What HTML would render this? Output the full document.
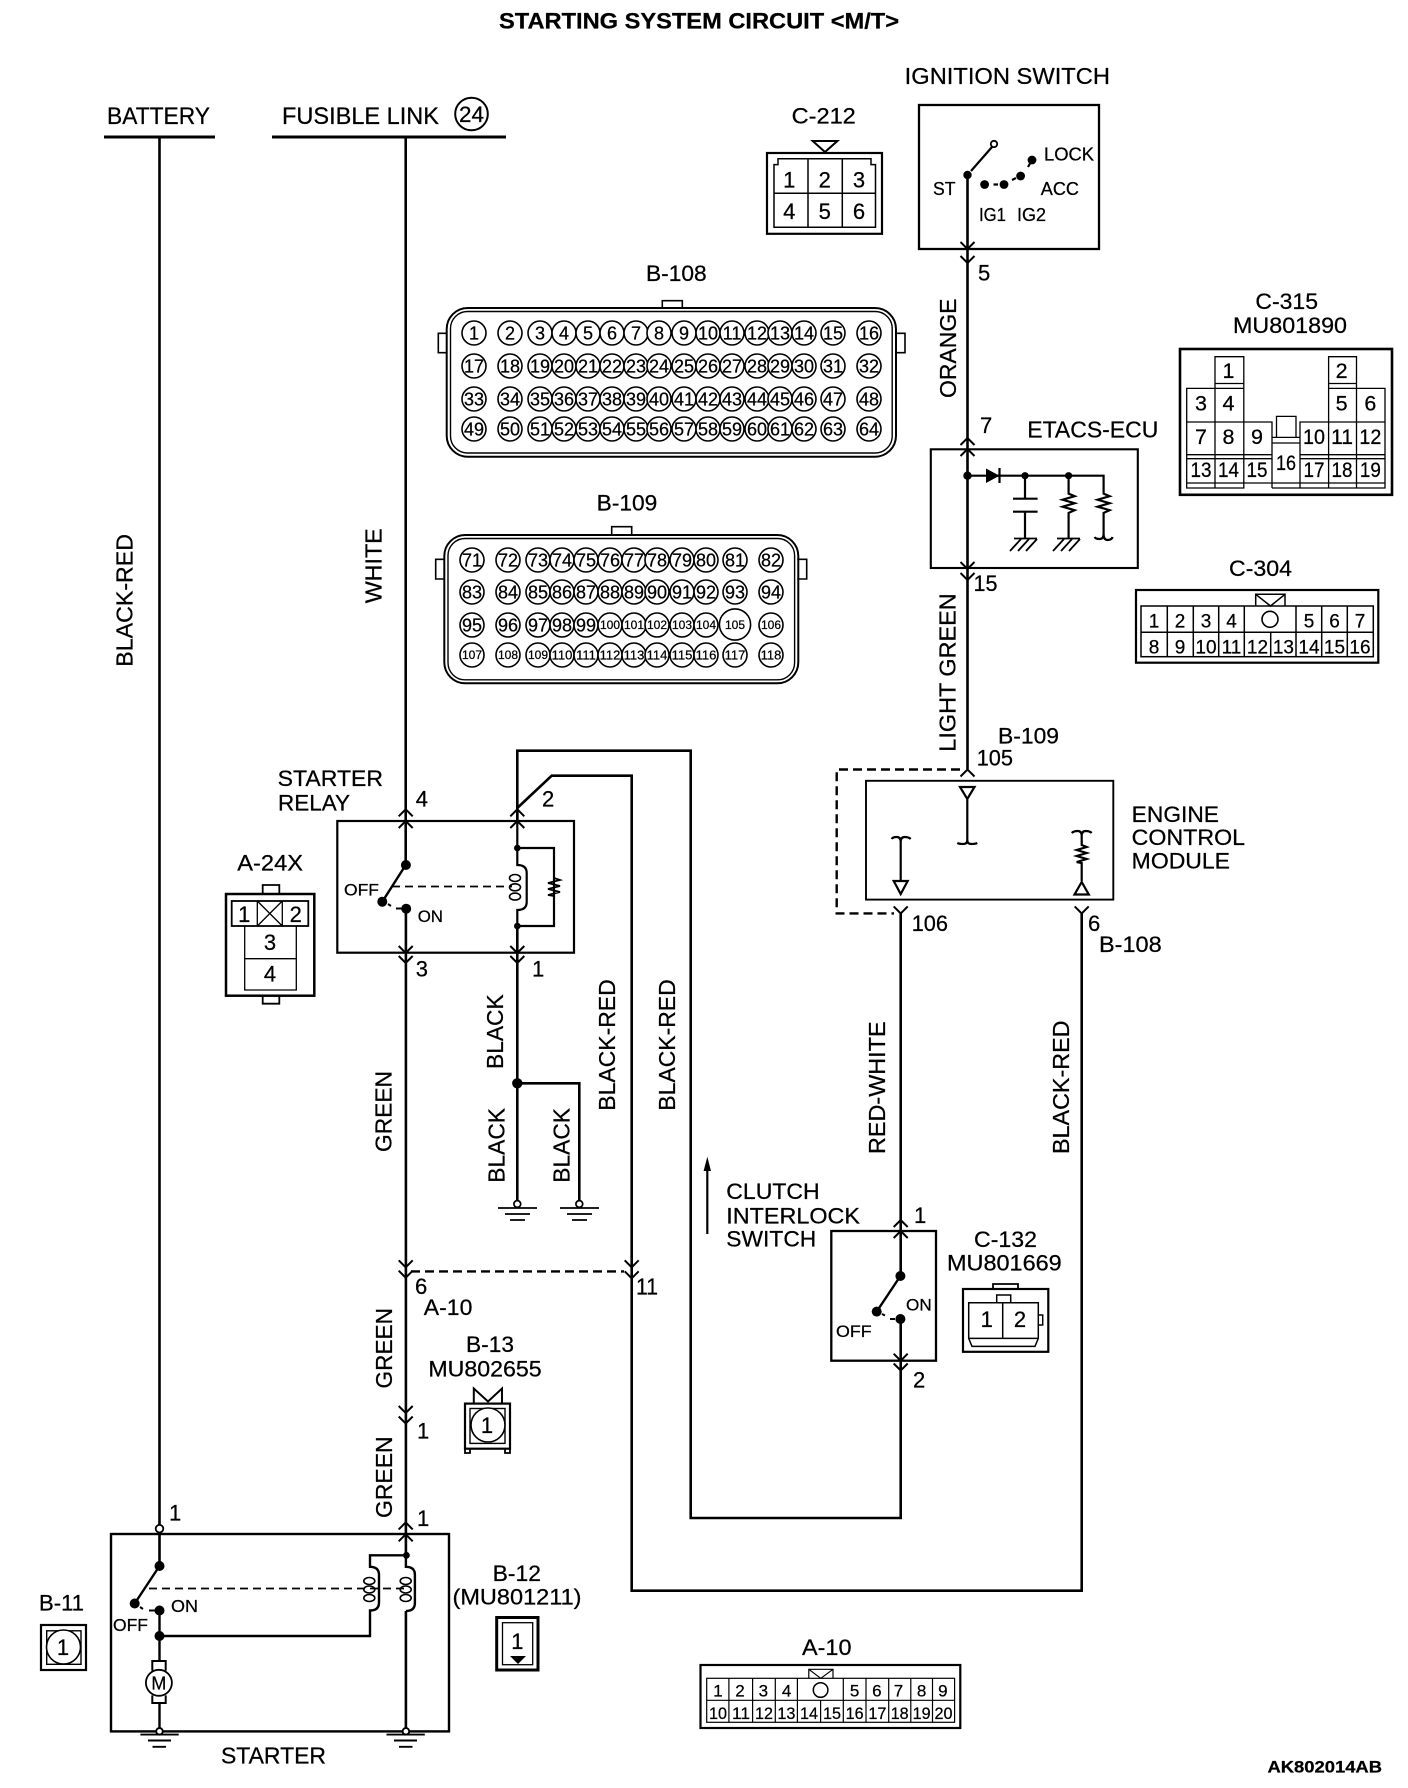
<!DOCTYPE html>
<html><head><meta charset="utf-8"><title>Starting System Circuit</title>
<style>
html,body{margin:0;padding:0;background:#fff}
svg{display:block}
text{font-family:"Liberation Sans",sans-serif;fill:#000;stroke:#000;stroke-width:.25}
.s{fill:none;stroke:#000}
.n text{text-anchor:middle}
</style></head><body>
<svg width="1408" height="1788" viewBox="0 0 1408 1788" xmlns="http://www.w3.org/2000/svg">
<defs>
<path id="up" d="M-7 7L0 0L7 7" fill="none" stroke="#000" stroke-width="2"/>
<path id="dn" d="M-7 -7L0 0L7 -7" fill="none" stroke="#000" stroke-width="2"/>
<circle id="c" r="12" fill="#fff" stroke="#000" stroke-width="1.6"/>
</defs>

<!-- title -->
<text x="499" y="28.5" font-size="22" font-weight="bold" textLength="400" lengthAdjust="spacingAndGlyphs">STARTING SYSTEM CIRCUIT &lt;M/T&gt;</text>
<text x="1267.5" y="1772.7" font-size="16.5" font-weight="bold" textLength="114.5" lengthAdjust="spacingAndGlyphs">AK802014AB</text>

<!-- main wires -->
<g class="s" stroke-width="2.6" fill="none">
<path d="M104 137H215M272 137H506" stroke-width="3"/>
<path d="M159.5 137V1525"/>
<path d="M405.7 137V865M405.9 908V1555.3"/>
<path d="M517.3 821V750.7H690.7V1518H900.7V1319"/>
<path d="M517.3 821L517.3 808L551.7 775.7H631.7V1590.7H1081.7V913.4"/>
<path d="M517.3 926V1200M517.3 1083.3H579.3V1200"/>
<path d="M900.7 913.4V1276"/>
<path d="M967.5 175V769"/>
<path d="M405.9 1611V1728M159.5 1566V1528"/>
</g>

<!-- dashed -->
<g class="s" stroke-width="2.4" stroke-dasharray="9 5">
<path d="M960 769.5H836.7V913.4H894"/>
<path d="M411 1271.4H624"/>
</g>

<!-- chevrons -->
<use href="#dn" x="967.5" y="249"/><use href="#dn" x="967.5" y="263"/>
<use href="#up" x="967.5" y="438"/><use href="#up" x="967.5" y="449"/>
<use href="#dn" x="967.5" y="569"/><use href="#dn" x="967.5" y="580"/>
<use href="#up" x="967.5" y="769.5"/>
<use href="#dn" x="900.7" y="913.4"/><use href="#dn" x="1081.7" y="913.4"/>
<use href="#up" x="900.7" y="1220"/><use href="#up" x="900.7" y="1231"/>
<use href="#dn" x="900.7" y="1360.7"/><use href="#dn" x="900.7" y="1370.5"/>
<use href="#up" x="405.7" y="809.3"/><use href="#up" x="405.7" y="821"/>
<use href="#up" x="517.3" y="809.3"/><use href="#up" x="517.3" y="821"/>
<use href="#dn" x="405.7" y="953"/><use href="#dn" x="405.7" y="963"/>
<use href="#dn" x="517.3" y="953"/><use href="#dn" x="517.3" y="963"/>
<use href="#dn" x="405.7" y="1267.3"/><use href="#dn" x="405.7" y="1277.7"/>
<use href="#dn" x="405.7" y="1413"/><use href="#dn" x="405.7" y="1423.5"/>
<use href="#up" x="405.7" y="1522.4"/><use href="#up" x="405.7" y="1534.3"/>
<use href="#dn" x="631.7" y="1267.3"/><use href="#dn" x="631.7" y="1278.3"/>

<!-- top labels -->
<text x="107" y="124" font-size="24" textLength="103" lengthAdjust="spacingAndGlyphs">BATTERY</text>
<text x="282" y="124" font-size="24" textLength="157" lengthAdjust="spacingAndGlyphs">FUSIBLE LINK</text>
<circle cx="471.5" cy="114" r="16.3" class="s" stroke-width="2"/>
<text x="471.5" y="122" font-size="22" text-anchor="middle" textLength="25" lengthAdjust="spacingAndGlyphs">24</text>

<!-- rotated wire labels -->
<g font-size="23">
<text transform="translate(132.3,666.7) rotate(-90)" textLength="132.7" lengthAdjust="spacingAndGlyphs">BLACK-RED</text>
<text transform="translate(381.7,603.3) rotate(-90)" textLength="75" lengthAdjust="spacingAndGlyphs">WHITE</text>
<text transform="translate(956,398) rotate(-90)" textLength="99.5" lengthAdjust="spacingAndGlyphs">ORANGE</text>
<text transform="translate(955.5,751.7) rotate(-90)" textLength="158.4" lengthAdjust="spacingAndGlyphs">LIGHT GREEN</text>
<text transform="translate(391.7,1152) rotate(-90)" textLength="81" lengthAdjust="spacingAndGlyphs">GREEN</text>
<text transform="translate(392,1388.5) rotate(-90)" textLength="80.5" lengthAdjust="spacingAndGlyphs">GREEN</text>
<text transform="translate(392,1518) rotate(-90)" textLength="81.6" lengthAdjust="spacingAndGlyphs">GREEN</text>
<text transform="translate(503,1069) rotate(-90)" textLength="74.7" lengthAdjust="spacingAndGlyphs">BLACK</text>
<text transform="translate(504.7,1182.7) rotate(-90)" textLength="74.7" lengthAdjust="spacingAndGlyphs">BLACK</text>
<text transform="translate(569.7,1182.7) rotate(-90)" textLength="74.7" lengthAdjust="spacingAndGlyphs">BLACK</text>
<text transform="translate(615,1110.7) rotate(-90)" textLength="131.4" lengthAdjust="spacingAndGlyphs">BLACK-RED</text>
<text transform="translate(675,1110.7) rotate(-90)" textLength="131.4" lengthAdjust="spacingAndGlyphs">BLACK-RED</text>
<text transform="translate(885,1154) rotate(-90)" textLength="132.6" lengthAdjust="spacingAndGlyphs">RED-WHITE</text>
<text transform="translate(1069,1154) rotate(-90)" textLength="133.5" lengthAdjust="spacingAndGlyphs">BLACK-RED</text>
</g>

<!-- ignition switch -->
<text x="904.7" y="84" font-size="23" textLength="205.3" lengthAdjust="spacingAndGlyphs">IGNITION SWITCH</text>
<rect x="919" y="105" width="180" height="144" class="s" stroke-width="2.3"/>
<g fill="#000" stroke="none">
<circle cx="967.5" cy="175" r="4.2"/><circle cx="984.6" cy="184.5" r="4.4"/><circle cx="1004" cy="184.5" r="4.4"/><circle cx="1020.6" cy="176" r="4.4"/><circle cx="1032" cy="160" r="4.4"/>
</g>
<circle cx="994" cy="144" r="3.2" fill="#fff" stroke="#000" stroke-width="1.8"/>
<path class="s" stroke-width="2.2" d="M971 171L992 147M993.5 184.5H998M1012 180L1016 178M1032 160L1028 167"/>
<g font-size="18.5">
<text x="933" y="195" textLength="22.5" lengthAdjust="spacingAndGlyphs">ST</text>
<text x="1044" y="160.7" textLength="50" lengthAdjust="spacingAndGlyphs">LOCK</text>
<text x="1040.8" y="195" textLength="38.2" lengthAdjust="spacingAndGlyphs">ACC</text>
<text x="979" y="221" textLength="27" lengthAdjust="spacingAndGlyphs">IG1</text>
<text x="1017" y="221" textLength="29" lengthAdjust="spacingAndGlyphs">IG2</text>
</g>
<text x="978" y="280.5" font-size="22">5</text>
<text x="980" y="433" font-size="22">7</text>
<text x="973.5" y="591" font-size="22" textLength="24" lengthAdjust="spacingAndGlyphs">15</text>

<!-- C-212 -->
<text x="791.6" y="123.6" font-size="22" textLength="64.2" lengthAdjust="spacingAndGlyphs">C-212</text>
<path class="s" stroke-width="2" d="M812.7 141H837.4L825 152Z"/>
<rect x="767" y="153" width="115" height="80.8" class="s" stroke-width="2.2"/>
<path class="s" stroke-width="1.5" d="M774 227.3V164.6H778V158.8H871V164.6H875.5V227.3ZM808 158.8V227.3M842.3 158.8V227.3M774 193.3H875.5"/>
<g class="n" font-size="22">
<text x="789.3" y="187.5">1</text><text x="824.8" y="187.5">2</text><text x="859" y="187.5">3</text>
<text x="789.3" y="219">4</text><text x="824.8" y="219">5</text><text x="859" y="219">6</text>
</g>

<!-- ETACS-ECU -->
<text x="1027.3" y="437.4" font-size="23" textLength="131" lengthAdjust="spacingAndGlyphs">ETACS-ECU</text>
<rect x="930.8" y="449.3" width="207" height="118.7" class="s" stroke-width="2.1"/>
<path class="s" stroke-width="2.2" d="M967.5 475.7H1103.6V493.7l6 2.5-12 3.5 12 3.5-12 3.5 12 3.5-6 2.7V534q0 5-4 5t-5-2M1103.6 534q0 6 4 6t5-3M1025 475.7V498.7M1013 498.7H1037.6M1013 511.7H1037.6M1025 511.7V538M1068.6 475.7V493.7l6 2.5-12 3.5 12 3.5-12 3.5 12 3.5-6 2.7V538"/>
<path class="s" stroke-width="2.2" d="M999.5 468V483"/>
<path d="M986 468.5L999.5 475.7L986 483Z" fill="#000"/>
<circle cx="967.5" cy="475.7" r="4.2" fill="#000"/><circle cx="1025" cy="475.7" r="3.6" fill="#000"/><circle cx="1068.6" cy="475.7" r="3.6" fill="#000"/>
<path class="s" stroke-width="1.8" d="M1014 538.5H1037M1021 539L1010 551M1029 539L1018 551M1037 539L1026 551M1057 538.5H1080M1064 539L1053 551M1072 539L1061 551M1080 539L1069 551"/>

<!-- C-315 -->
<text x="1255.4" y="308.8" font-size="22" textLength="62.6" lengthAdjust="spacingAndGlyphs">C-315</text>
<text x="1233" y="333" font-size="22" textLength="114" lengthAdjust="spacingAndGlyphs">MU801890</text>
<rect x="1180" y="349" width="212" height="145.8" class="s" stroke-width="2.6"/>
<path class="s" stroke-width="1.3" d="M1215 356.7H1243.8V388.4H1215ZM1215 383.5H1243.8M1328.6 356.7H1356.5V388.4H1328.6ZM1328.6 383.5H1356.5M1186.7 388.4H1243.8V488H1186.7ZM1215 388.4V488M1328.6 388.4H1385V488H1300V422H1328.6ZM1356.5 388.4V488M1328.6 422V488M1186.7 422H1272V488M1300 422H1385M1186.7 454.7H1272M1186.7 458.7H1272M1300 454.7H1385M1300 458.7H1385M1243.8 422V488M1186.7 483H1385M1272 437.4H1300V488M1272 443H1300M1276.5 437.4V416.4H1296V437.4M1272 488H1300"/>
<g class="n" font-size="21.5">
<text x="1228.5" y="378">1</text><text x="1341.6" y="378">2</text>
<text x="1201" y="410.6">3</text><text x="1228.5" y="410.6">4</text><text x="1341.6" y="410.6">5</text><text x="1370.4" y="410.6">6</text>
<text x="1201" y="444">7</text><text x="1228.5" y="444">8</text><text x="1257" y="444">9</text>
<text x="1314" y="444" textLength="22" lengthAdjust="spacingAndGlyphs">10</text><text x="1342" y="444" textLength="22" lengthAdjust="spacingAndGlyphs">11</text><text x="1370.4" y="444" textLength="22" lengthAdjust="spacingAndGlyphs">12</text>
<text x="1201" y="477" textLength="21" lengthAdjust="spacingAndGlyphs">13</text><text x="1228.5" y="477" textLength="21" lengthAdjust="spacingAndGlyphs">14</text><text x="1257" y="477" textLength="21" lengthAdjust="spacingAndGlyphs">15</text>
<text x="1286" y="470" textLength="20" lengthAdjust="spacingAndGlyphs">16</text>
<text x="1314" y="477" textLength="21" lengthAdjust="spacingAndGlyphs">17</text><text x="1342" y="477" textLength="21" lengthAdjust="spacingAndGlyphs">18</text><text x="1370.4" y="477" textLength="21" lengthAdjust="spacingAndGlyphs">19</text>
</g>

<!-- C-304 -->
<text x="1229" y="576" font-size="22" textLength="63" lengthAdjust="spacingAndGlyphs">C-304</text>
<rect x="1136" y="590" width="242.3" height="72.7" class="s" stroke-width="2.2"/>
<rect x="1141" y="606" width="232.3" height="50.7" class="s" stroke-width="1.5"/>
<path class="s" stroke-width="1.5" d="M1141 632.3H1373.3M1167.3 606V656.7M1193.3 606V656.7M1218.7 606V656.7M1244.3 606V656.7M1270.7 632.3V656.7M1296 606V656.7M1321.7 606V656.7M1347.3 606V656.7M1255.7 606V594.3H1285V606M1255.7 594.3L1270.5 606L1285 594.3"/>
<circle cx="1270" cy="619.3" r="8" class="s" stroke-width="1.6"/>
<g class="n" font-size="19">
<text x="1154" y="627.3">1</text><text x="1180" y="627.3">2</text><text x="1206" y="627.3">3</text><text x="1231.5" y="627.3">4</text><text x="1309" y="627.3">5</text><text x="1334.5" y="627.3">6</text><text x="1360" y="627.3">7</text>
<text x="1154" y="653.3">8</text><text x="1180" y="653.3">9</text><text x="1206" y="653.3">10</text><text x="1231.5" y="653.3">11</text><text x="1257.5" y="653.3">12</text><text x="1283.4" y="653.3">13</text><text x="1309" y="653.3">14</text><text x="1334.5" y="653.3">15</text><text x="1360" y="653.3">16</text>
</g>

<!-- B-108 connector -->
<text x="646" y="281" font-size="22" textLength="60.7" lengthAdjust="spacingAndGlyphs">B-108</text>
<path class="s" stroke-width="1.6" d="M662.3 308V300.7H682.3V308M447.3 333.3H438.3V352.7H447.3M895.7 333.3H905V352.7H895.7"/>
<rect x="446.7" y="308" width="449.3" height="148.7" rx="21" class="s" stroke-width="2"/>
<rect x="450.5" y="311.5" width="441.7" height="141.5" rx="17" class="s" stroke-width="1.4"/>
<g>
<use href="#c" x="474" y="333"/><use href="#c" x="510" y="333"/><use href="#c" x="540" y="333"/><use href="#c" x="564" y="333"/><use href="#c" x="588" y="333"/><use href="#c" x="612" y="333"/><use href="#c" x="636" y="333"/><use href="#c" x="659" y="333"/><use href="#c" x="684" y="333"/><use href="#c" x="708" y="333"/><use href="#c" x="732" y="333"/><use href="#c" x="757" y="333"/><use href="#c" x="780" y="333"/><use href="#c" x="804" y="333"/><use href="#c" x="833" y="333"/><use href="#c" x="869" y="333"/>
<use href="#c" x="474" y="366"/><use href="#c" x="510" y="366"/><use href="#c" x="540" y="366"/><use href="#c" x="564" y="366"/><use href="#c" x="588" y="366"/><use href="#c" x="612" y="366"/><use href="#c" x="636" y="366"/><use href="#c" x="659" y="366"/><use href="#c" x="684" y="366"/><use href="#c" x="708" y="366"/><use href="#c" x="732" y="366"/><use href="#c" x="757" y="366"/><use href="#c" x="780" y="366"/><use href="#c" x="804" y="366"/><use href="#c" x="833" y="366"/><use href="#c" x="869" y="366"/>
<use href="#c" x="474" y="399"/><use href="#c" x="510" y="399"/><use href="#c" x="540" y="399"/><use href="#c" x="564" y="399"/><use href="#c" x="588" y="399"/><use href="#c" x="612" y="399"/><use href="#c" x="636" y="399"/><use href="#c" x="659" y="399"/><use href="#c" x="684" y="399"/><use href="#c" x="708" y="399"/><use href="#c" x="732" y="399"/><use href="#c" x="757" y="399"/><use href="#c" x="780" y="399"/><use href="#c" x="804" y="399"/><use href="#c" x="833" y="399"/><use href="#c" x="869" y="399"/>
<use href="#c" x="474" y="429"/><use href="#c" x="510" y="429"/><use href="#c" x="540" y="429"/><use href="#c" x="564" y="429"/><use href="#c" x="588" y="429"/><use href="#c" x="612" y="429"/><use href="#c" x="636" y="429"/><use href="#c" x="659" y="429"/><use href="#c" x="684" y="429"/><use href="#c" x="708" y="429"/><use href="#c" x="732" y="429"/><use href="#c" x="757" y="429"/><use href="#c" x="780" y="429"/><use href="#c" x="804" y="429"/><use href="#c" x="833" y="429"/><use href="#c" x="869" y="429"/>
</g>
<g class="n" font-size="18">
<text x="474" y="339.500">1</text><text x="510" y="339.500">2</text><text x="540" y="339.500">3</text><text x="564" y="339.500">4</text><text x="588" y="339.500">5</text><text x="612" y="339.500">6</text><text x="636" y="339.500">7</text><text x="659" y="339.500">8</text><text x="684" y="339.500">9</text><text x="708" y="339.500">10</text><text x="732" y="339.500">11</text><text x="757" y="339.500">12</text><text x="780" y="339.500">13</text><text x="804" y="339.500">14</text><text x="833" y="339.500">15</text><text x="869" y="339.500">16</text>
<text x="474" y="372.500">17</text><text x="510" y="372.500">18</text><text x="540" y="372.500">19</text><text x="564" y="372.500">20</text><text x="588" y="372.500">21</text><text x="612" y="372.500">22</text><text x="636" y="372.500">23</text><text x="659" y="372.500">24</text><text x="684" y="372.500">25</text><text x="708" y="372.500">26</text><text x="732" y="372.500">27</text><text x="757" y="372.500">28</text><text x="780" y="372.500">29</text><text x="804" y="372.500">30</text><text x="833" y="372.500">31</text><text x="869" y="372.500">32</text>
<text x="474" y="405.500">33</text><text x="510" y="405.500">34</text><text x="540" y="405.500">35</text><text x="564" y="405.500">36</text><text x="588" y="405.500">37</text><text x="612" y="405.500">38</text><text x="636" y="405.500">39</text><text x="659" y="405.500">40</text><text x="684" y="405.500">41</text><text x="708" y="405.500">42</text><text x="732" y="405.500">43</text><text x="757" y="405.500">44</text><text x="780" y="405.500">45</text><text x="804" y="405.500">46</text><text x="833" y="405.500">47</text><text x="869" y="405.500">48</text>
<text x="474" y="435.500">49</text><text x="510" y="435.500">50</text><text x="540" y="435.500">51</text><text x="564" y="435.500">52</text><text x="588" y="435.500">53</text><text x="612" y="435.500">54</text><text x="636" y="435.500">55</text><text x="659" y="435.500">56</text><text x="684" y="435.500">57</text><text x="708" y="435.500">58</text><text x="732" y="435.500">59</text><text x="757" y="435.500">60</text><text x="780" y="435.500">61</text><text x="804" y="435.500">62</text><text x="833" y="435.500">63</text><text x="869" y="435.500">64</text>
</g>

<!-- B-109 connector -->
<text x="596.7" y="510.7" font-size="22" textLength="60.6" lengthAdjust="spacingAndGlyphs">B-109</text>
<path class="s" stroke-width="1.6" d="M611.7 535V526.7H631.7V535M445 559.3H435.7V579H445M797.3 559.3H806.7V579H797.3"/>
<rect x="444.3" y="535" width="354" height="148.3" rx="21" class="s" stroke-width="2"/>
<rect x="448" y="538.5" width="346.6" height="141.3" rx="17" class="s" stroke-width="1.4"/>
<g>
<use href="#c" x="472" y="560"/><use href="#c" x="508" y="560"/><use href="#c" x="538" y="560"/><use href="#c" x="562" y="560"/><use href="#c" x="586" y="560"/><use href="#c" x="610" y="560"/><use href="#c" x="634" y="560"/><use href="#c" x="657" y="560"/><use href="#c" x="682" y="560"/><use href="#c" x="706" y="560"/><use href="#c" x="735" y="560"/><use href="#c" x="771" y="560"/>
<use href="#c" x="472" y="592"/><use href="#c" x="508" y="592"/><use href="#c" x="538" y="592"/><use href="#c" x="562" y="592"/><use href="#c" x="586" y="592"/><use href="#c" x="610" y="592"/><use href="#c" x="634" y="592"/><use href="#c" x="657" y="592"/><use href="#c" x="682" y="592"/><use href="#c" x="706" y="592"/><use href="#c" x="735" y="592"/><use href="#c" x="771" y="592"/>
<use href="#c" x="472" y="655"/><use href="#c" x="508" y="655"/><use href="#c" x="538" y="655"/><use href="#c" x="562" y="655"/><use href="#c" x="586" y="655"/><use href="#c" x="610" y="655"/><use href="#c" x="634" y="655"/><use href="#c" x="657" y="655"/><use href="#c" x="682" y="655"/><use href="#c" x="706" y="655"/><use href="#c" x="735" y="655"/><use href="#c" x="771" y="655"/>
<use href="#c" x="472" y="625"/><use href="#c" x="508" y="625"/><use href="#c" x="538" y="625"/><use href="#c" x="562" y="625"/><use href="#c" x="586" y="625"/><use href="#c" x="610" y="625"/><use href="#c" x="634" y="625"/><use href="#c" x="657" y="625"/><use href="#c" x="682" y="625"/><use href="#c" x="706" y="625"/><use href="#c" x="771" y="625"/>
</g>
<circle cx="735" cy="624.5" r="15.6" fill="#fff" stroke="#000" stroke-width="1.6"/>
<g class="n" font-size="18">
<text x="472" y="566.500">71</text><text x="508" y="566.500">72</text><text x="538" y="566.500">73</text><text x="562" y="566.500">74</text><text x="586" y="566.500">75</text><text x="610" y="566.500">76</text><text x="634" y="566.500">77</text><text x="657" y="566.500">78</text><text x="682" y="566.500">79</text><text x="706" y="566.500">80</text><text x="735" y="566.500">81</text><text x="771" y="566.500">82</text>
<text x="472" y="598.500">83</text><text x="508" y="598.500">84</text><text x="538" y="598.500">85</text><text x="562" y="598.500">86</text><text x="586" y="598.500">87</text><text x="610" y="598.500">88</text><text x="634" y="598.500">89</text><text x="657" y="598.500">90</text><text x="682" y="598.500">91</text><text x="706" y="598.500">92</text><text x="735" y="598.500">93</text><text x="771" y="598.500">94</text>
<text x="472" y="631.500">95</text><text x="508" y="631.500">96</text><text x="538" y="631.500">97</text><text x="562" y="631.500">98</text><text x="586" y="631.500">99</text>
</g>
<g class="n" font-size="12">
<text x="610" y="629">100</text><text x="634" y="629">101</text><text x="657" y="629">102</text><text x="682" y="629">103</text><text x="706" y="629">104</text><text x="735" y="629">105</text><text x="771" y="629">106</text>
<text x="472" y="659">107</text><text x="508" y="659">108</text><text x="538" y="659">109</text><text x="562" y="659.5" font-size="13">110</text><text x="586" y="659.5" font-size="13">111</text><text x="610" y="659.5" font-size="13">112</text><text x="634" y="659.5" font-size="13">113</text><text x="657" y="659.5" font-size="13">114</text><text x="682" y="659.5" font-size="13">115</text><text x="706" y="659.5" font-size="13">116</text><text x="735" y="659.5" font-size="13">117</text><text x="771" y="659.5" font-size="13">118</text>
</g>

<!-- Starter relay -->
<text x="277.7" y="786" font-size="22.5" textLength="105.3" lengthAdjust="spacingAndGlyphs">STARTER</text>
<text x="278" y="810.7" font-size="22.5" textLength="72" lengthAdjust="spacingAndGlyphs">RELAY</text>
<text x="415.7" y="806.7" font-size="22">4</text>
<text x="542" y="806.7" font-size="22">2</text>
<text x="415.7" y="976.7" font-size="22">3</text>
<text x="532" y="976.7" font-size="22">1</text>
<rect x="337.3" y="821" width="236.7" height="131.7" class="s" stroke-width="2.2"/>
<path class="s" stroke-width="2.4" d="M405.7 865L382.3 901.7"/>
<path class="s" stroke-width="1.8" stroke-dasharray="8 5" d="M392 886.5H512"/>
<path class="s" stroke-width="2" d="M388 904L391 906M396 908.5H402"/>
<circle cx="405.9" cy="865" r="5" fill="#000"/><circle cx="382.3" cy="901.7" r="5" fill="#000"/><circle cx="406.2" cy="908.7" r="5" fill="#000"/>
<path class="s" stroke-width="2.2" d="M517.3 848H554V926H517.3M517.3 821V865q9.4 0 9.4 8V902q0 8-9.4 8V953"/>
<path class="s" stroke-width="1.8" d="M554 878l6 2-12 3 12 3-12 3 12 3-12 3 6 1"/>
<circle cx="517.3" cy="848" r="3.3" fill="#000"/><circle cx="517.3" cy="926" r="3.3" fill="#000"/>
<g class="s" stroke-width="1.6"><ellipse cx="515" cy="878" rx="5.5" ry="3.5"/><ellipse cx="515" cy="887.3" rx="5.5" ry="3.5"/><ellipse cx="515" cy="896.6" rx="5.5" ry="3.5"/></g>
<circle cx="517.3" cy="1083.3" r="5.2" fill="#000"/>
<text x="344" y="895.7" font-size="17" textLength="35" lengthAdjust="spacingAndGlyphs">OFF</text>
<text x="417.7" y="922" font-size="17" textLength="25.3" lengthAdjust="spacingAndGlyphs">ON</text>

<!-- relay grounds -->
<g class="s" stroke-width="1.7">
<circle cx="517.3" cy="1204" r="3.4"/><path d="M498 1208H537M505 1214H530M510 1220H525"/>
<circle cx="579.3" cy="1204" r="3.4"/><path d="M560 1208H599M567 1214H592M572 1220H587"/>
</g>

<!-- A-24X -->
<text x="237.3" y="870.7" font-size="22.5" textLength="65.7" lengthAdjust="spacingAndGlyphs">A-24X</text>
<path class="s" stroke-width="1.8" d="M262.7 894V885H279.3V894M262.7 995.7V1003.7H279.3V995.7"/>
<rect x="226" y="894" width="88.3" height="101.7" class="s" stroke-width="2.5"/>
<rect x="231.7" y="901" width="76.6" height="25" class="s" stroke-width="1.8"/>
<path class="s" stroke-width="1.3" d="M257.3 901V926M282.3 901V926M257.3 901L282.3 926M282.3 901L257.3 926M244.7 926V990H296.3V926M244.7 958.7H296.3M244.7 990H296.3"/>
<g class="n" font-size="22">
<text x="244.3" y="922">1</text><text x="295.7" y="922">2</text><text x="270" y="950">3</text><text x="270" y="981.7">4</text>
</g>

<!-- ECM -->
<text x="998" y="743.3" font-size="22" textLength="61" lengthAdjust="spacingAndGlyphs">B-109</text>
<text x="976.7" y="765.7" font-size="22" textLength="36.3" lengthAdjust="spacingAndGlyphs">105</text>
<rect x="866" y="780.8" width="247.3" height="118.8" class="s" stroke-width="1.9"/>
<path class="s" stroke-width="2.2" d="M960 787H974.5L967.3 799ZM967.3 799V840q0 4-4 4t-6-1M967.3 840q0 4 4 4t6-1M900.7 842V881M900.7 842q0-5-4-5t-5 2M900.7 842q0-5 4-5t6 2M893.7 881H907.7L900.7 894ZM1081.7 836q0-5-4-5t-6 2M1081.700 836q0-5 4-5t6 2M1081.700 836V845l5 2-10 3 10 3-10 3 10 3-10 3 5 1V881M1074.500 894.500H1088.800L1081.700 882Z"/>
<g font-size="22">
<text x="1131.7" y="822" textLength="87.3" lengthAdjust="spacingAndGlyphs">ENGINE</text>
<text x="1131.7" y="845" textLength="113.3" lengthAdjust="spacingAndGlyphs">CONTROL</text>
<text x="1131.7" y="868.7" textLength="98.3" lengthAdjust="spacingAndGlyphs">MODULE</text>
<text x="911.7" y="931" textLength="36.3" lengthAdjust="spacingAndGlyphs">106</text>
<text x="1088" y="931">6</text>
<text x="1099" y="952" textLength="62.7" lengthAdjust="spacingAndGlyphs">B-108</text>
</g>

<!-- Clutch interlock switch -->
<path class="s" stroke-width="2.2" d="M707.3 1234V1165"/>
<path d="M707.3 1156.7L711 1171H703.6Z" fill="#000"/>
<g font-size="22.5">
<text x="726.3" y="1199" textLength="93.4" lengthAdjust="spacingAndGlyphs">CLUTCH</text>
<text x="726.3" y="1223.3" textLength="133.7" lengthAdjust="spacingAndGlyphs">INTERLOCK</text>
<text x="726.3" y="1246.7" textLength="90" lengthAdjust="spacingAndGlyphs">SWITCH</text>
</g>
<rect x="831.3" y="1231" width="104.7" height="129.7" class="s" stroke-width="2.3"/>
<path class="s" stroke-width="2.4" d="M900.4 1276L876.7 1311.6"/>
<path class="s" stroke-width="2" d="M882 1314L885 1315.5M890 1319H895"/>
<circle cx="900.4" cy="1276" r="5" fill="#000"/><circle cx="876.7" cy="1311.6" r="5" fill="#000"/><circle cx="900.4" cy="1319" r="5" fill="#000"/>
<text x="906" y="1310.7" font-size="17" textLength="25.7" lengthAdjust="spacingAndGlyphs">ON</text>
<text x="836" y="1337" font-size="17" textLength="35.7" lengthAdjust="spacingAndGlyphs">OFF</text>
<text x="914" y="1223" font-size="22">1</text>
<text x="913" y="1387.5" font-size="22">2</text>

<!-- C-132 -->
<text x="974" y="1247" font-size="22" textLength="63" lengthAdjust="spacingAndGlyphs">C-132</text>
<text x="947" y="1270.5" font-size="22" textLength="114.7" lengthAdjust="spacingAndGlyphs">MU801669</text>
<path class="s" stroke-width="1.8" d="M993 1289V1284H1018V1289"/>
<rect x="963" y="1289" width="85.3" height="62.8" class="s" stroke-width="2.2"/>
<path class="s" stroke-width="1.5" d="M968.7 1302.7H1038.3V1338.4L1035 1346.4H972L968.7 1338.4ZM968.7 1338.4H1038.3M1002.7 1302.7V1338.4M996.7 1302.7V1295H1010.7V1302.7M1038.3 1315H1042.7V1325H1038.3"/>
<text x="986.7" y="1327" font-size="22" text-anchor="middle">1</text>
<text x="1020" y="1327" font-size="22" text-anchor="middle">2</text>

<text x="636" y="1294.3" font-size="23" textLength="22" lengthAdjust="spacingAndGlyphs">11</text>
<text x="415" y="1294" font-size="22">6</text>
<text x="423.8" y="1315" font-size="22" textLength="48.6" lengthAdjust="spacingAndGlyphs">A-10</text>
<text x="417" y="1438.5" font-size="22">1</text>
<text x="417" y="1526" font-size="22">1</text>
<text x="169" y="1520.7" font-size="22">1</text>

<!-- B-13 -->
<text x="466" y="1352" font-size="22" textLength="48" lengthAdjust="spacingAndGlyphs">B-13</text>
<text x="428.4" y="1376.3" font-size="22" textLength="113.3" lengthAdjust="spacingAndGlyphs">MU802655</text>
<path class="s" stroke-width="2" d="M473.8 1403V1388.5L488 1401.5L502 1388.5V1403"/>
<path class="s" stroke-width="1.8" d="M465 1448.7V1453H470V1448.7M505 1448.7V1453H510V1448.7"/>
<rect x="465" y="1403.6" width="45" height="45.1" class="s" stroke-width="2.2"/>
<rect x="470" y="1408.5" width="35" height="34.9" class="s" stroke-width="1.4"/>
<circle cx="488" cy="1425" r="17" fill="#fff" stroke="#000" stroke-width="1.6"/>
<text x="487" y="1433" font-size="22" text-anchor="middle">1</text>

<!-- Starter -->
<rect x="111" y="1534" width="338" height="197.4" class="s" stroke-width="2.4"/>
<path class="s" stroke-width="2.4" d="M159.5 1566L134.7 1603.5"/>
<path class="s" stroke-width="1.8" stroke-dasharray="8 5" d="M149 1588.5H405"/>
<path class="s" stroke-width="2" d="M140 1607L143 1609M149 1610.5H155"/>
<circle cx="159.5" cy="1528.7" r="3.8" fill="#fff" stroke="#000" stroke-width="1.8"/>
<circle cx="159.5" cy="1566" r="5" fill="#000"/><circle cx="134.7" cy="1603.5" r="5" fill="#000"/><circle cx="159.5" cy="1610.5" r="5" fill="#000"/><circle cx="159.5" cy="1636" r="5" fill="#000"/>
<path class="s" stroke-width="2.4" d="M159.5 1610.5V1661M159.5 1636H370V1610.5q9 0 9-8V1575q0-8.2-9-8.2V1555.3H405.9M405.9 1555.3V1566.8q9 0 9 8V1603q0 8-9 8M159.5 1703V1728"/>
<g class="s" stroke-width="1.6">
<ellipse cx="369.3" cy="1581" rx="5.5" ry="3.5"/><ellipse cx="369.3" cy="1589.5" rx="5.5" ry="3.5"/><ellipse cx="369.3" cy="1598" rx="5.5" ry="3.5"/>
<ellipse cx="405.7" cy="1581" rx="5.5" ry="3.5"/><ellipse cx="405.7" cy="1589.5" rx="5.5" ry="3.5"/><ellipse cx="405.7" cy="1598" rx="5.5" ry="3.5"/>
</g>
<circle cx="406.4" cy="1555.3" r="3.4" fill="#000"/>
<path class="s" stroke-width="2" d="M152.3 1670.6V1661H165.7V1670.6M152.3 1695.4V1703H165.7V1695.4"/>
<circle cx="158.9" cy="1682.8" r="13" fill="#fff" stroke="#000" stroke-width="1.8"/>
<text x="158.9" y="1689.5" font-size="18" text-anchor="middle" textLength="15" lengthAdjust="spacingAndGlyphs">M</text>
<text x="171" y="1612" font-size="17.5" textLength="27" lengthAdjust="spacingAndGlyphs">ON</text>
<text x="113" y="1631" font-size="17.5" textLength="35" lengthAdjust="spacingAndGlyphs">OFF</text>
<text x="221" y="1763.6" font-size="23" textLength="105" lengthAdjust="spacingAndGlyphs">STARTER</text>
<g class="s" stroke-width="1.9">
<circle cx="159.5" cy="1731.4" r="3.3" fill="#fff"/><path d="M140.4 1734.6H178.7M148 1740.5H171M152.5 1746.8H166"/>
<circle cx="405.9" cy="1731.4" r="3.3" fill="#fff"/><path d="M386.5 1734.6H424.8M394 1740.5H417M399 1746.8H412.5"/>
</g>

<!-- B-11 -->
<text x="39" y="1610.5" font-size="22" textLength="45" lengthAdjust="spacingAndGlyphs">B-11</text>
<rect x="41" y="1625" width="45" height="45" class="s" stroke-width="2.2"/>
<rect x="46.7" y="1630.8" width="34.3" height="33.5" class="s" stroke-width="1.4"/>
<circle cx="63.5" cy="1647" r="17" fill="#fff" stroke="#000" stroke-width="1.6"/>
<text x="63" y="1655" font-size="22" text-anchor="middle">1</text>

<!-- B-12 -->
<text x="492.7" y="1580.8" font-size="22" textLength="48.3" lengthAdjust="spacingAndGlyphs">B-12</text>
<text x="452.5" y="1604.6" font-size="22" textLength="129" lengthAdjust="spacingAndGlyphs">(MU801211)</text>
<rect x="496.7" y="1617.5" width="41.3" height="52.5" class="s" stroke-width="3"/>
<rect x="502.5" y="1622.7" width="30.2" height="42" class="s" stroke-width="1.3"/>
<text x="517.4" y="1649" font-size="22" text-anchor="middle">1</text>
<path d="M510 1656H526L518 1664Z" fill="#000"/>

<!-- A-10 connector -->
<text x="802" y="1655" font-size="22" textLength="49.5" lengthAdjust="spacingAndGlyphs">A-10</text>
<rect x="700.5" y="1665" width="259.8" height="63" class="s" stroke-width="2.2"/>
<rect x="706.7" y="1678.3" width="247.9" height="44" class="s" stroke-width="1.2"/>
<path class="s" stroke-width="1.2" d="M706.7 1700.3H954.6M728.9 1678.3V1722.3M752.6 1678.3V1722.3M775.3 1678.3V1722.3M797.4 1678.3V1722.3M820.6 1700.3V1722.3M843.3 1678.3V1722.3M866 1678.3V1722.3M888.7 1678.3V1722.3M910.8 1678.3V1722.3M932.5 1678.3V1722.3M808.8 1678.3V1669.3H833V1678.3M808.8 1669.3L820.8 1678.3L833 1669.3"/>
<circle cx="820.6" cy="1690" r="7.3" class="s" stroke-width="1.5"/>
<g class="n" font-size="17">
<text x="718" y="1696.7">1</text><text x="740" y="1696.7">2</text><text x="763.4" y="1696.7">3</text><text x="786.6" y="1696.7">4</text><text x="854.6" y="1696.7">5</text><text x="876.8" y="1696.7">6</text><text x="898.5" y="1696.7">7</text><text x="921.6" y="1696.7">8</text><text x="942.8" y="1696.7">9</text>
<text x="718" y="1719" textLength="18" lengthAdjust="spacingAndGlyphs">10</text><text x="741" y="1719" textLength="18" lengthAdjust="spacingAndGlyphs">11</text><text x="764" y="1719" textLength="18" lengthAdjust="spacingAndGlyphs">12</text><text x="786.4" y="1719" textLength="18" lengthAdjust="spacingAndGlyphs">13</text><text x="809" y="1719" textLength="18" lengthAdjust="spacingAndGlyphs">14</text><text x="832" y="1719" textLength="18" lengthAdjust="spacingAndGlyphs">15</text><text x="854.6" y="1719" textLength="18" lengthAdjust="spacingAndGlyphs">16</text><text x="877.4" y="1719" textLength="18" lengthAdjust="spacingAndGlyphs">17</text><text x="899.7" y="1719" textLength="18" lengthAdjust="spacingAndGlyphs">18</text><text x="921.6" y="1719" textLength="18" lengthAdjust="spacingAndGlyphs">19</text><text x="943.5" y="1719" textLength="18" lengthAdjust="spacingAndGlyphs">20</text>
</g>
</svg>
</body></html>
